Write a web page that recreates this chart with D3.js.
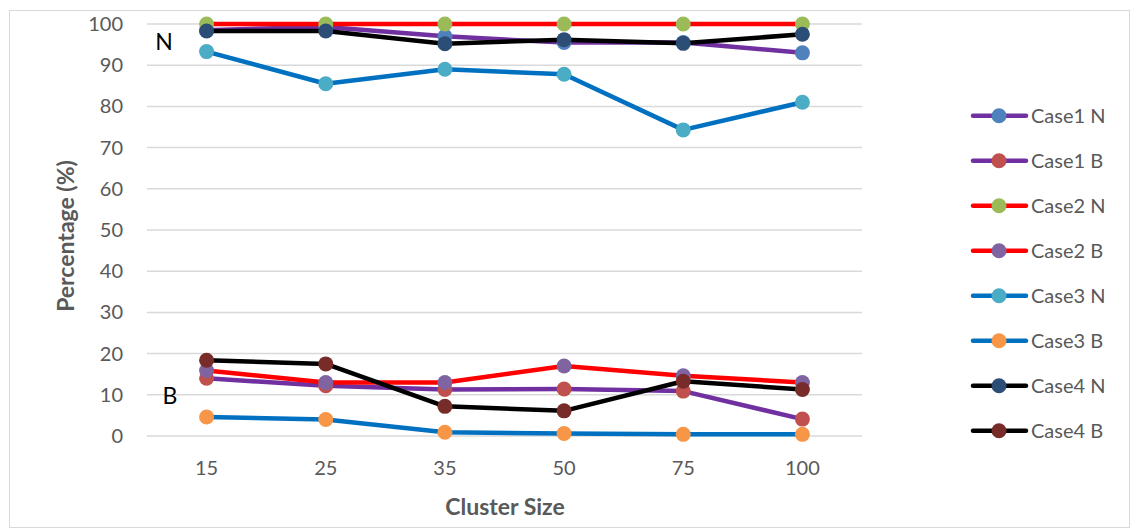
<!DOCTYPE html>
<html>
<head>
<meta charset="utf-8">
<script src="https://cdn.jsdelivr.net/npm/d3@7"></script>
<style>
  body { margin: 0; background: #fff; }
  text { font-family: Lato, "Open Sans", sans-serif; }
</style>
</head>
<body>
<div id="chart"></div>
<script>
// cluster sizes on the x axis
const clusterSizes = ["15", "25", "35", "50", "75", "100"];
const yTicks = [0, 10, 20, 30, 40, 50, 60, 70, 80, 90, 100];

const case1N = [98.5, 99.3, 97, 95.5, 95.5, 93];
const case1B = [14.0, 12.2, 11.3, 11.4, 10.9, 4.1];
const case2N = [100, 100, 100, 100, 100, 100];
const case2B = [15.9, 13.0, 13.0, 17.0, 14.6, 13.0];
const case3N = [93.3, 85.5, 89, 87.8, 74.3, 81];
const case3B = [4.6, 4.0, 0.9, 0.6, 0.4, 0.4];
const case4N = [98.3, 98.3, 95.2, 96.2, 95.3, 97.5];
const case4B = [18.4, 17.5, 7.2, 6.1, 13.3, 11.3];

const seriesNames = ["Case1 N", "Case1 B", "Case2 N", "Case2 B", "Case3 N", "Case3 B", "Case4 N", "Case4 B"];
const seriesValues = [case1N, case1B, case2N, case2B, case3N, case3B, case4N, case4B];
const lineColors = ["#7030A0", "#7030A0", "#FF0000", "#FF0000", "#0070C0", "#0070C0", "#000000", "#000000"];
const dotColors = ["#4F81BD", "#C0504D", "#9BBB59", "#8064A2", "#4BACC6", "#F79646", "#2C4D75", "#772C2A"];

const series = seriesNames.map((name, i) => ({
    name: name,
    values: seriesValues[i],
    line: lineColors[i],
    dot: dotColors[i]
}));

const width = 1136, height = 531;

const svg = d3.select("#chart")
    .append("svg")
    .attr("width", width)
    .attr("height", height);

// outer frame
svg.append("rect")
    .attr("x", 9.5).attr("y", 10.5)
    .attr("width", 1120).attr("height", 517)
    .attr("fill", "none")
    .attr("stroke", "#d9d9d9")
    .attr("stroke-width", 1);

const x = d3.scaleBand()
    .domain(clusterSizes)
    .range([147, 862]);

const y = d3.scaleLinear()
    .domain([0, 100])
    .range([436, 24]);

// gridlines
svg.append("g")
    .selectAll("line")
    .data(yTicks)
    .enter().append("line")
    .attr("x1", 147).attr("x2", 862)
    .attr("y1", d => y(d)).attr("y2", d => y(d))
    .attr("stroke", "#d9d9d9")
    .attr("stroke-width", 1.5);

// y tick labels
svg.append("g")
    .selectAll("text")
    .data(yTicks)
    .enter().append("text")
    .attr("x", 123)
    .attr("y", d => y(d))
    .attr("dy", "0.35em")
    .attr("text-anchor", "end")
    .attr("fill", "#595959")
    .style("font-size", "20px")
    .text(d => d);

// x tick labels
svg.append("g")
    .selectAll("text")
    .data(clusterSizes)
    .enter().append("text")
    .attr("x", d => x(d) + x.bandwidth() / 2)
    .attr("y", 468)
    .attr("dy", "0.35em")
    .attr("text-anchor", "middle")
    .attr("fill", "#595959")
    .style("font-size", "20px")
    .text(d => d);

// axis titles
svg.append("text")
    .attr("x", 505).attr("y", 507)
    .attr("dy", "0.35em")
    .attr("text-anchor", "middle")
    .attr("fill", "#595959")
    .style("font-size", "23px")
    .style("font-weight", "bold")
    .text("Cluster Size");

svg.append("text")
    .attr("transform", "translate(66,236) rotate(-90)")
    .attr("dy", "0.35em")
    .attr("text-anchor", "middle")
    .attr("fill", "#595959")
    .style("font-size", "23px")
    .style("font-weight", "bold")
    .text("Percentage (%)");

// group labels
svg.append("text")
    .attr("x", 164).attr("y", 42)
    .attr("dy", "0.35em")
    .attr("text-anchor", "middle")
    .attr("fill", "#000")
    .style("font-size", "23px")
    .text("N");

svg.append("text")
    .attr("x", 170).attr("y", 396)
    .attr("dy", "0.35em")
    .attr("text-anchor", "middle")
    .attr("fill", "#000")
    .style("font-size", "23px")
    .text("B");

const line = d3.line()
    .x((d, i) => x(clusterSizes[i]) + x.bandwidth() / 2)
    .y(d => y(d));

// each series: line then markers, drawn in order
series.forEach(s => {
    const g = svg.append("g");
    g.append("path")
        .datum(s.values)
        .attr("d", line)
        .attr("fill", "none")
        .attr("stroke", s.line)
        .attr("stroke-width", 4.5)
        .attr("stroke-linejoin", "round")
        .attr("stroke-linecap", "round");
    g.selectAll("circle")
        .data(s.values)
        .enter().append("circle")
        .attr("cx", (d, i) => x(clusterSizes[i]) + x.bandwidth() / 2)
        .attr("cy", d => y(d))
        .attr("r", 7.5)
        .attr("fill", s.dot);
});

// legend
const legend = svg.append("g")
    .selectAll("g")
    .data(series)
    .enter().append("g")
    .attr("transform", (d, i) => `translate(0, ${115.7 + i * 45})`);

legend.append("line")
    .attr("x1", 973).attr("x2", 1026)
    .attr("y1", 0).attr("y2", 0)
    .attr("stroke", d => d.line)
    .attr("stroke-width", 4.5)
    .attr("stroke-linecap", "round");

legend.append("circle")
    .attr("cx", 999).attr("cy", 0)
    .attr("r", 7.5)
    .attr("fill", d => d.dot);

legend.append("text")
    .attr("x", 1031).attr("y", 0)
    .attr("dy", "0.35em")
    .attr("fill", "#595959")
    .style("font-size", "20px")
    .text(d => d.name);
</script>
</body>
</html>
